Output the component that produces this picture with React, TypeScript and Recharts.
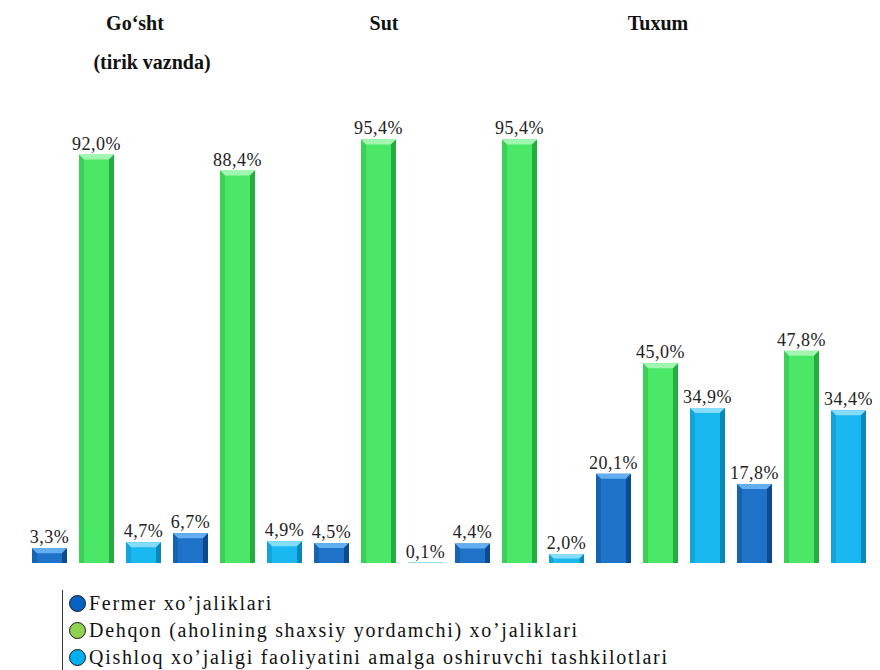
import { BarChart, Bar, XAxis, YAxis, LabelList } from "recharts"

const categories = ["Go‘sht I", "Go‘sht II", "Sut I", "Sut II", "Tuxum I", "Tuxum II"]
const fermer = [3.3, 6.7, 4.5, 4.4, 20.1, 17.8]
const dehqon = [92.0, 88.4, 95.4, 95.4, 45.0, 47.8]
const qishloq = [4.7, 4.9, 0.1, 2.0, 34.9, 34.4]

const seriesNames = [
  "Fermer xo’jaliklari",
  "Dehqon (aholining shaxsiy yordamchi) xo’jaliklari",
  "Qishloq xo’jaligi faoliyatini amalga oshiruvchi tashkilotlari",
]

const titles = [
  { text: "Go‘sht", x: 127, y: 3 },
  { text: "(tirik vaznda)", x: 144, y: 42 },
  { text: "Sut", x: 376, y: 3 },
  { text: "Tuxum", x: 650, y: 3 },
]

const SERIF = '"Liberation Serif", "Times New Roman", Times, serif'

const data = categories.map((name, i) => ({
  name,
  fermer: fermer[i],
  dehqon: dehqon[i],
  qishloq: qishloq[i],
}))

const colors = {
  fermer: { base: "#1e73c8", light: "#63aef0", dark: "#0b4a8c", legend: "#0563c1" },
  dehqon: { base: "#4be868", light: "#a2f7b0", dark: "#25ad42", legend: "#92d050" },
  qishloq: { base: "#1ab8f0", light: "#86dcfb", dark: "#0987bb", legend: "#00b0f0" },
}

type Shade = { base: string; light: string; dark: string }

function BevelBar(props: any & { shade: Shade }) {
  const { x, y, width, height, shade } = props
  if (!height || height <= 0) return null
  const b = Math.min(5, height / 2, width / 4)
  return (
    <g>
      <rect x={x} y={y} width={width} height={height} fill={shade.base} />
      <polygon
        points={`${x},${y} ${x + width},${y} ${x + width - b},${y + b} ${x + b},${y + b}`}
        fill={shade.light}
      />
      <polygon
        points={`${x},${y} ${x + b},${y + b} ${x + b},${y + height} ${x},${y + height}`}
        fill={shade.dark}
        opacity={0.4}
      />
      <polygon
        points={`${x + width},${y} ${x + width - b},${y + b} ${x + width - b},${y + height} ${x + width},${y + height}`}
        fill={shade.dark}
      />
    </g>
  )
}

const fmt = (v: any) => `${Number(v).toFixed(1).replace(".", ",")}%`

export default function App() {
  const keys = ["fermer", "dehqon", "qishloq"] as const
  return (
    <div style={{ position: "relative", width: 872, height: 662, fontFamily: SERIF }}>
      {titles.map((t) => (
        <div
          key={t.text}
          style={{
            position: "absolute",
            left: t.x,
            top: t.y,
            transform: "translateX(-50%)",
            fontSize: 20,
            lineHeight: "24px",
            fontWeight: "bold",
            whiteSpace: "nowrap",
            color: "#111",
          }}
        >
          {t.text}
        </div>
      ))}
      <BarChart
        width={872}
        height={560}
        data={data}
        margin={{ top: 111, right: 0, bottom: 5, left: 4 }}
        barGap={12}
        barCategoryGap={6}
      >
        <XAxis
          dataKey="name"
          height={0}
          tick={false}
          tickLine={false}
          axisLine={{ stroke: "#a6a6a6", strokeWidth: 3 }}
          padding={{ left: 14, right: 8 }}
        />
        <YAxis hide domain={[0, 100]} />
        {keys.map((k) => (
          <Bar
            key={k}
            dataKey={k}
            isAnimationActive={false}
            shape={(p: any) => <BevelBar {...p} shade={colors[k]} />}
          >
            <LabelList
              dataKey={k}
              position="top"
              offset={5}
              formatter={fmt}
              fontFamily={SERIF}
              fontSize={18}
              fill="#222"
              style={{ fontFamily: SERIF, fontSize: 18, letterSpacing: 0.5 }}
            />
          </Bar>
        ))}
      </BarChart>
      <div
        style={{
          position: "absolute",
          left: 54,
          top: 582,
          borderLeft: "1.5px solid #333",
          paddingLeft: 6,
          height: 80,
        }}
      >
        {keys.map((k, i) => (
          <div
            key={k}
            style={{
              display: "flex",
              alignItems: "center",
              height: 27,
              fontFamily: SERIF,
              fontSize: 20,
              letterSpacing: 1.7,
              whiteSpace: "nowrap",
              color: "#111",
            }}
          >
            <span
              style={{
                display: "inline-block",
                width: 15,
                height: 15,
                borderRadius: "50%",
                background: colors[k].legend,
                border: "1.5px solid #1a1a1a",
                marginRight: 3,
                flexShrink: 0,
              }}
            />
            {seriesNames[i]}
          </div>
        ))}
      </div>
    </div>
  )
}
